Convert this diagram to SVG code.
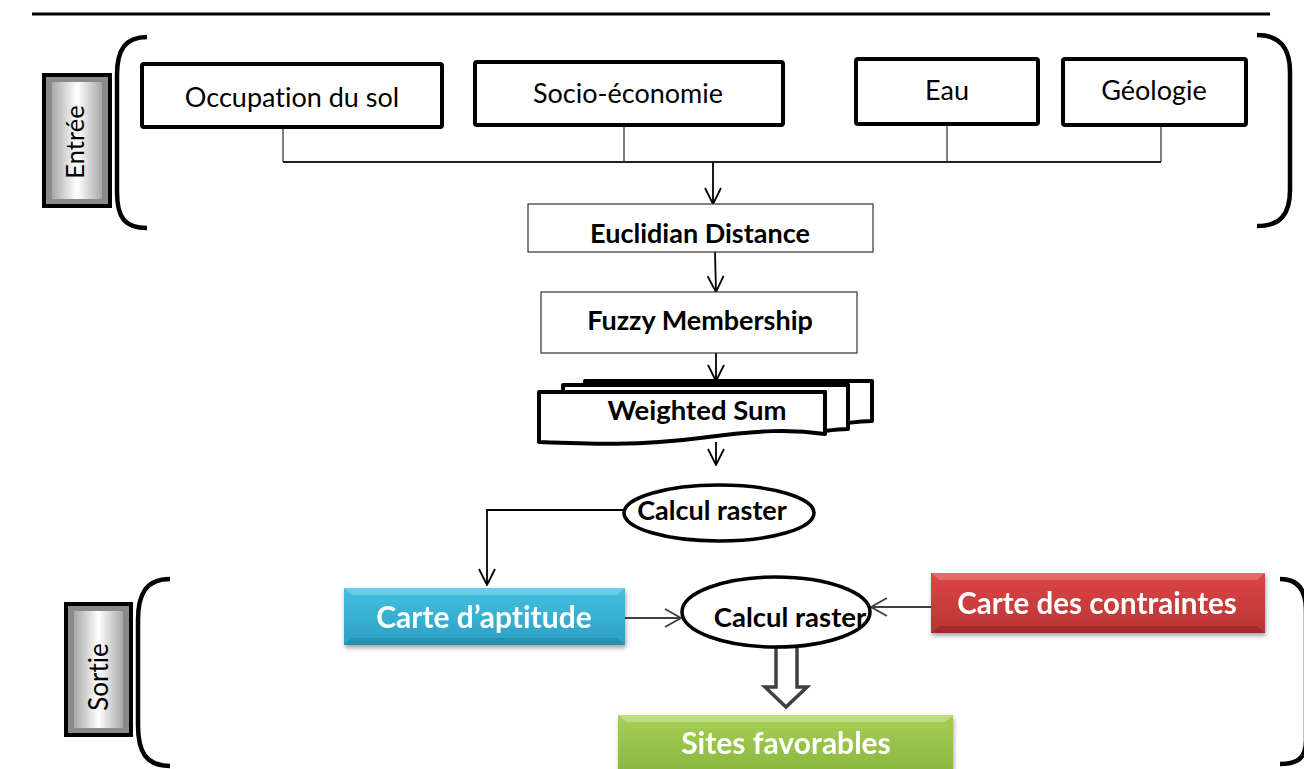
<svg xmlns="http://www.w3.org/2000/svg" width="1304" height="769" viewBox="0 0 1304 769">
<defs>
<style>
.t{font-family:Lato,"Open Sans","Liberation Sans",sans-serif;fill:#000;font-variant-ligatures:none}
.r{font-size:27px;font-weight:400}
.b{font-size:27px;font-weight:700}
.w{fill:#fff;font-size:30px;font-weight:700}
.box{fill:#fff;stroke:#000;stroke-width:4}
.thin{fill:#fff;stroke:#333;stroke-width:1.2}
.conn{fill:none;stroke:#555;stroke-width:1.5}
.ar{fill:none;stroke:#000;stroke-width:1.8}
.ar2{fill:none;stroke:#404040;stroke-width:2}
.brace{fill:none;stroke:#000;stroke-width:4.5}
</style>
<marker id="v" viewBox="0 0 18 18" refX="17" refY="9" markerWidth="18" markerHeight="18" markerUnits="userSpaceOnUse" orient="auto">
<path d="M1,1 L17,9 L1,17" fill="none" stroke="#000" stroke-width="1.8"/>
</marker>
<marker id="vg" viewBox="0 0 18 20" refX="17" refY="10" markerWidth="18" markerHeight="20" markerUnits="userSpaceOnUse" orient="auto">
<path d="M1,1 L17,10 L1,19" fill="none" stroke="#404040" stroke-width="2"/>
</marker>
<linearGradient id="gC" x1="0" y1="0" x2="0" y2="1"><stop offset="0" stop-color="#45c0e2"/><stop offset="1" stop-color="#2b9fc2"/></linearGradient>
<linearGradient id="gR" x1="0" y1="0" x2="0" y2="1"><stop offset="0" stop-color="#dc4646"/><stop offset="1" stop-color="#b93434"/></linearGradient>
<linearGradient id="gG" x1="0" y1="0" x2="0" y2="1"><stop offset="0" stop-color="#a6cf55"/><stop offset="1" stop-color="#8ab63e"/></linearGradient>
<linearGradient id="gL" x1="0" y1="0" x2="1" y2="0"><stop offset="0" stop-color="#a8a8a8"/><stop offset="0.5" stop-color="#ffffff"/><stop offset="1" stop-color="#a8a8a8"/></linearGradient>
<filter id="sh" x="-5%" y="-10%" width="110%" height="130%"><feDropShadow dx="1" dy="3" stdDeviation="2" flood-color="#000" flood-opacity="0.35"/></filter>
</defs>
<rect width="1304" height="769" fill="#fff"/>
<line x1="32" y1="14" x2="1270" y2="14" stroke="#000" stroke-width="3"/>

<g id="brackets">
<path class="brace" d="M147,37 C125,37 117,50 117,75 V192 C117,218 125,228 147,228"/>
<path class="brace" d="M1257,35 C1280,35 1290,48 1290,72 V190 C1290,215 1280,226 1257,226"/>
<path class="brace" d="M170,579 C146,579 138,594 138,620 V725 C138,752 146,766 170,766"/>
<path class="brace" d="M1280,579 C1298,579 1306,590 1306,610 V740 C1306,758 1298,764 1280,764"/>
</g>

<g id="entree">
<rect x="42" y="73" width="70" height="135" fill="#000"/>
<rect x="46" y="77" width="62" height="127" fill="#8a8a8a"/>
<rect x="52" y="82" width="50" height="117" fill="url(#gL)"/>
<text class="t r" transform="translate(84,142) rotate(-90)" text-anchor="middle" style="font-size:25.5px">Entrée</text>
</g>
<g id="sortie">
<rect x="64" y="602" width="69" height="135" fill="#000"/>
<rect x="68" y="606" width="61" height="127" fill="#8a8a8a"/>
<rect x="74" y="611" width="49" height="117" fill="url(#gL)"/>
<text class="t r" transform="translate(108,677) rotate(-90)" text-anchor="middle" style="font-size:26px">Sortie</text>
</g>

<g id="connectors">
<path class="conn" d="M283,127 V162 M624,125 V162 M947,124 V162 M1161,125 V162"/>
<line x1="283" y1="162" x2="1161" y2="162" stroke="#222" stroke-width="2"/>
<line class="ar" x1="713" y1="162" x2="713" y2="204" marker-end="url(#v)"/>
<line class="ar" x1="715" y1="252" x2="716" y2="292" marker-end="url(#v)"/>
<line class="ar" x1="716" y1="353" x2="716" y2="381" marker-end="url(#v)"/>
<line class="ar" x1="716" y1="442" x2="716" y2="465" marker-end="url(#v)"/>
<path class="ar" d="M623,510 H487 V585" stroke="#444" stroke-width="1.5" marker-end="url(#v)"/>
<line class="ar2" x1="625" y1="618" x2="681" y2="618" marker-end="url(#vg)"/>
<line class="ar2" x1="931" y1="607" x2="871" y2="607" marker-end="url(#vg)"/>
<path d="M776,646 V687 H765 L786,707 L807,687 H797 V646" fill="#fff" stroke="#404040" stroke-width="3.5" stroke-linejoin="miter"/>
</g>

<g id="occupation"><rect class="box" x="142" y="64" width="300" height="63" rx="2"/><text class="t r" x="292" y="107" text-anchor="middle">Occupation du sol</text></g>
<g id="socio"><rect class="box" x="475" y="62" width="308" height="63" rx="2"/><text class="t r" x="628" y="103" text-anchor="middle">Socio-économie</text></g>
<g id="eau"><rect class="box" x="856" y="59" width="182" height="65" rx="2"/><text class="t r" x="947" y="100" text-anchor="middle">Eau</text></g>
<g id="geologie"><rect class="box" x="1063" y="59" width="183" height="66" rx="2"/><text class="t r" x="1154" y="100" text-anchor="middle">Géologie</text></g>

<g id="euclidian"><rect class="thin" x="528" y="204" width="345" height="48"/><text class="t b" x="700" y="243" text-anchor="middle">Euclidian Distance</text></g>
<g id="fuzzy"><rect class="thin" x="541" y="292" width="316" height="61"/><text class="t b" x="700" y="330" text-anchor="middle">Fuzzy Membership</text></g>

<g id="weighted">
<path d="M585,381 H872 V421 C860,421 855,422 848,423 V385 H585 Z" fill="#fff" stroke="#000" stroke-width="4" stroke-linejoin="round"/>
<path d="M563,385 H848 V429 C840,429 832,430 825,431 V392 H563 Z" fill="#fff" stroke="#000" stroke-width="4" stroke-linejoin="round"/>
<path d="M539,392 H825 V434 C790,429 760,430 700,438 C640,446 590,444 539,442 Z" fill="#fff" stroke="#000" stroke-width="4" stroke-linejoin="round"/>
<text class="t b" x="697" y="420" text-anchor="middle" style="font-size:27.5px">Weighted Sum</text>
</g>

<g id="calcul1"><ellipse cx="719" cy="513" rx="95" ry="28" fill="#fff" stroke="#000" stroke-width="3.5"/><text class="t b" x="712" y="520" text-anchor="middle">Calcul raster</text></g>

<g id="aptitude" filter="url(#sh)">
<rect x="344" y="588" width="281" height="57" fill="url(#gC)"/>
<polygon points="344,588 625,588 617,595 352,595" fill="#7fd8f0" opacity="0.6"/>
<polygon points="344,645 625,645 617,638 352,638" fill="#1f7f9e" opacity="0.5"/>
<text class="t w" x="484" y="628" text-anchor="middle">Carte d’aptitude</text>
</g>

<g id="calcul2"><ellipse cx="776" cy="612" rx="94" ry="35" fill="#fff" stroke="#000" stroke-width="3.5"/><text class="t b" x="790" y="627" text-anchor="middle" style="font-size:27.5px">Calcul raster</text></g>

<g id="contraintes" filter="url(#sh)">
<rect x="931" y="573" width="334" height="60" fill="url(#gR)"/>
<polygon points="931,573 1265,573 1257,580 939,580" fill="#f08080" opacity="0.6"/>
<polygon points="931,633 1265,633 1257,626 939,626" fill="#8a2020" opacity="0.5"/>
<text class="t w" x="1097" y="614" text-anchor="middle" style="font-size:29.5px">Carte des contraintes</text>
</g>

<g id="sites" filter="url(#sh)">
<rect x="618" y="715" width="335" height="60" fill="url(#gG)"/>
<polygon points="618,715 953,715 945,722 626,722" fill="#cfe89a" opacity="0.6"/>
<text class="t w" x="786" y="754" text-anchor="middle">Sites favorables</text>
</g>
</svg>
